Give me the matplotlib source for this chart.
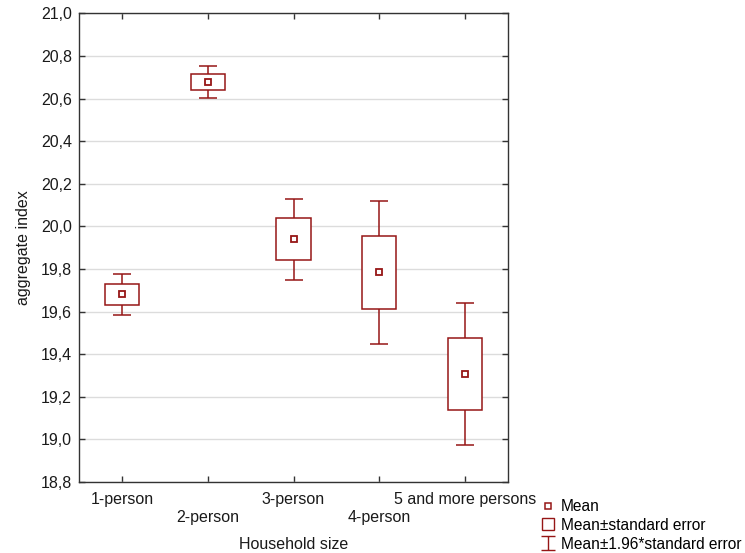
import matplotlib
matplotlib.use("Agg")
import matplotlib.pyplot as plt
from matplotlib.lines import Line2D
from matplotlib.path import Path
from matplotlib.ticker import FuncFormatter, MultipleLocator

plt.rcParams['font.family'] = ['Liberation Sans', 'DejaVu Sans']

categories = ["1-person", "2-person", "3-person", "4-person", "5 and more persons"]
means = [19.681, 20.678, 19.940, 19.785, 19.307]
std_errors = [0.049, 0.039, 0.097, 0.171, 0.169]
ci_factor = 1.96

color = '#961616'
fs = 11.5

fig = plt.figure(figsize=(7.45, 5.53), dpi=100)
ax = fig.add_axes([79/745, 1-482/553, (508-79)/745, (482-13.3)/553])

x = list(range(1, len(categories)+1))
whisk = [ci_factor*s for s in std_errors]
ax.errorbar(x, means, yerr=whisk, fmt='none', ecolor=color, elinewidth=1.1,
            capsize=6.4, capthick=1.1, zorder=3)
ax.bar(x, [2*s for s in std_errors], bottom=[m-s for m, s in zip(means, std_errors)],
       width=0.4, facecolor='white', edgecolor=color, linewidth=1.1, zorder=4)
ax.plot(x, means, ls='none', marker='s', markersize=4.6, mfc='white', mec=color,
        mew=1.3, zorder=5)

ax.set_ylim(18.8, 21.0)
ax.set_xlim(0.5, 5.5)
ax.yaxis.set_major_locator(MultipleLocator(0.2))
ax.yaxis.set_major_formatter(FuncFormatter(lambda v, p: f"{v:.1f}".replace('.', ',')))
ax.set_xticks(x)
ax.set_xticklabels(categories, fontsize=fs)
ax.tick_params(axis='y', labelsize=fs, pad=5)
ax.tick_params(direction='in', length=4, width=1, colors='#333333', top=True, right=True,
               labelcolor='#1a1a1a')
for i, t in enumerate(ax.xaxis.get_major_ticks()):
    t.set_pad(7.5 if i % 2 == 0 else 20.5)
ax.grid(axis='y', color='#dcdcdc', linewidth=1.0, zorder=0)
ax.set_axisbelow(True)
for s in ax.spines.values():
    s.set_color('#333333')
    s.set_linewidth(1.0)

ax.set_xlabel("Household size", fontsize=fs, color='#1a1a1a')
ax.set_ylabel("aggregate index", fontsize=fs, color='#1a1a1a')
ax.xaxis.set_label_coords(0.5, -(537 - 482) / 468.7)
ax.yaxis.set_label_coords(-0.112, 0.5)

whisker_marker = Path([(-1, 1), (1, 1), (0, 1), (0, -1), (-1, -1), (1, -1)],
                      [Path.MOVETO, Path.LINETO, Path.MOVETO, Path.LINETO, Path.MOVETO, Path.LINETO])
handles = [
    Line2D([], [], ls='none', marker='s', markersize=4.0, mfc='white', mec=color, mew=1.1),
    Line2D([], [], ls='none', marker='s', markersize=8.6, mfc='white', mec=color, mew=1.0),
    Line2D([], [], ls='none', marker=whisker_marker, markersize=10.5, mfc='none', mec=color, mew=1.0),
]
labels = ["Mean", "Mean\u00b1standard error", "Mean\u00b11.96*standard error"]
fig.legend(handles, labels, loc='upper left', bbox_to_anchor=(540/745, 1-499/553),
           frameon=False, fontsize=11.2, handlelength=1.0, handletextpad=0.35,
           labelspacing=0.25, borderpad=0, borderaxespad=0)

fig.savefig("out.png", dpi=100)
